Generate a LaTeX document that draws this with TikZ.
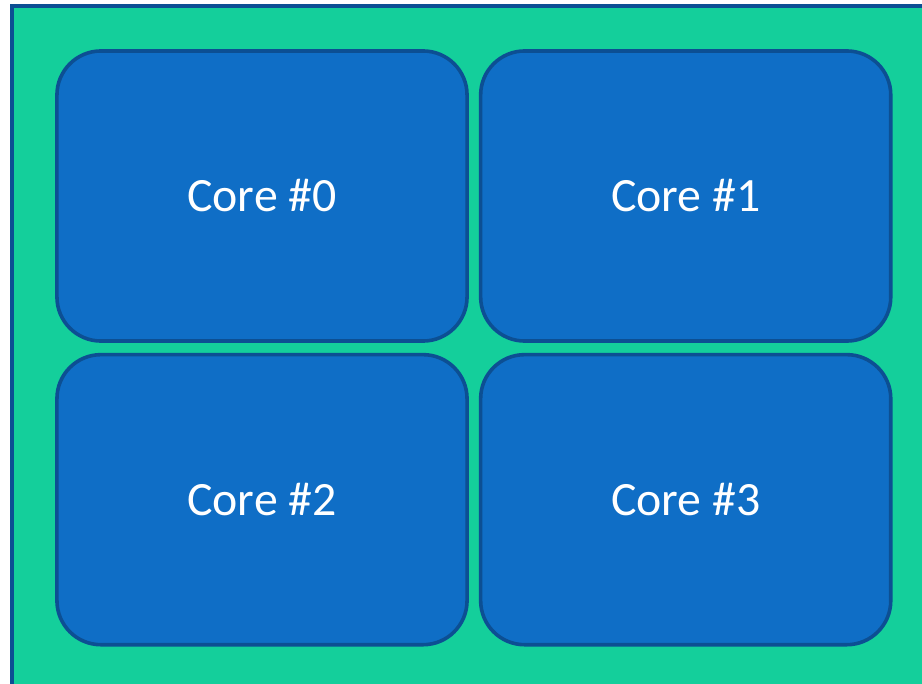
\documentclass[tikz,border=0pt]{standalone}
\usepackage{fontspec}
\setmainfont{Carlito}
\usetikzlibrary{positioning}

\definecolor{chipgreen}{HTML}{14CF9B}
\definecolor{corefill}{HTML}{0F6EC6}
\definecolor{coreedge}{HTML}{0C4F93}

\begin{document}
\begin{tikzpicture}[
        x=0.025cm, y=-0.025cm,
        node distance=0.25cm,
        chip/.style={draw=coreedge, fill=chipgreen, line width=0.1cm},
        core/.style={draw=coreedge, fill=corefill, line width=0.09cm, rounded corners=1.1cm,
                     minimum width=10.25cm, minimum height=7.25cm, align=center,
                     text=white, font=\fontsize{34}{40}\selectfont},
    ]
        \useasboundingbox (0,0) rectangle (922,684);
        \fill[white] (0,0) rectangle (922,684);

        % package outline, cut off at the right and bottom
        \begin{scope}
            \clip (0,0) rectangle (922,684);
            \draw[chip] (12,6) rectangle (940,700);
        \end{scope}

        % the four cores, 2x2
        \node[core] (c0) at (262,196) {Core \#0};
        \node[core, right=of c0] (c1) {Core \#1};
        \node[core, below=of c0] (c2) {Core \#2};
        \node[core, below=of c1] (c3) {Core \#3};
\end{tikzpicture}
\end{document}
